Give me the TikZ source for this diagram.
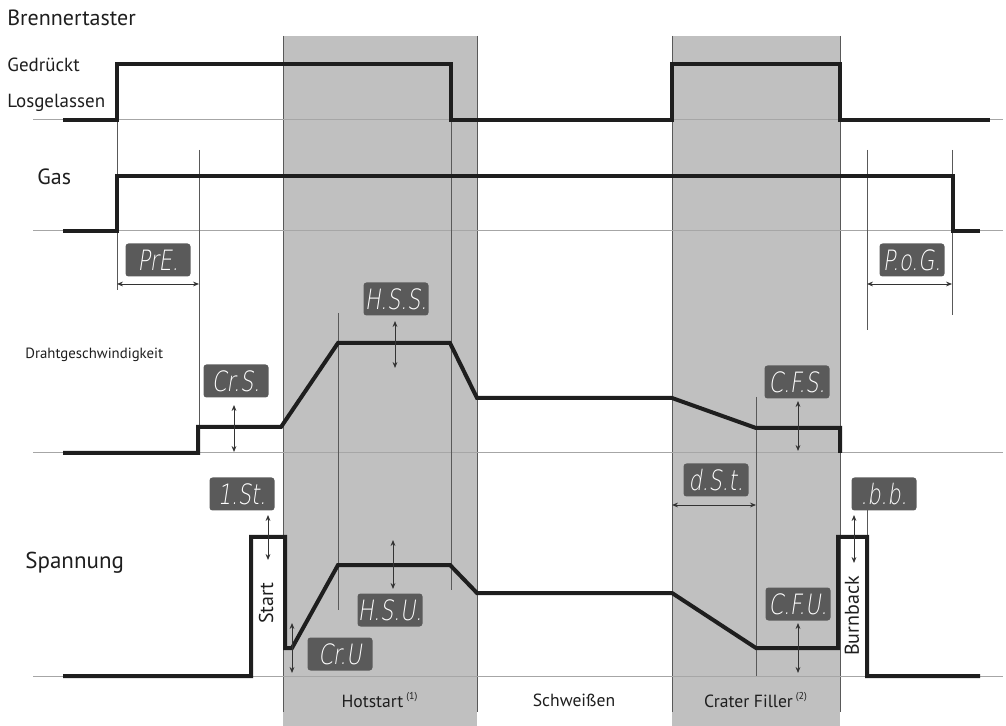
\documentclass[tikz,border=0pt]{standalone}
\usepackage{fontspec}
\setmainfont{PT Sans}
\newfontfamily\segfont[FakeSlant=0.15,FakeStretch=0.75]{DejaVu Sans ExtraLight}
\usetikzlibrary{arrows.meta}
\definecolor{band}{HTML}{C0C0C0}
\definecolor{dispbg}{HTML}{5A5A5A}
\definecolor{ink}{HTML}{1E1E1E}

\begin{document}
\begin{tikzpicture}[x=0.5pt,y=-0.5pt,
    sig/.style={ink,line width=2pt,line join=miter},
    base/.style={gray!70,line width=0.5pt},
    thin/.style={black!65,line width=0.5pt},
    dim/.style={black!80,line width=0.45pt,{Stealth[length=3pt,width=2.4pt]}-{Stealth[length=3pt,width=2.4pt]}},
    disp/.style={fill=dispbg,rounded corners=1.5pt,text=white,minimum width=32.5pt,minimum height=16.5pt,inner sep=0pt,font=\segfont\fontsize{14}{14}\selectfont},
    lbl/.style={text=ink,inner sep=0pt,anchor=west}]
\useasboundingbox (0,0) rectangle (1006,726);
\fill[band] (283,36) rectangle (477,726);
\fill[band] (672,36) rectangle (840,726);
\draw[thin] (283,36) -- (283,712);
\draw[thin] (477,36) -- (477,712);
\draw[thin] (672,36) -- (672,712);
\draw[thin] (840,36) -- (840,712);
\draw[base] (33,120) -- (1003,120);
\draw[base] (33,231) -- (1003,231);
\draw[base] (33,453) -- (1003,453);
\draw[base] (33,676) -- (1003,676);
\draw[thin] (117,64) -- (117,290);
\draw[thin] (199,150) -- (199,427);
\draw[thin] (338,313) -- (338,610);
\draw[thin] (451,64) -- (451,590);
\draw[thin] (756,397) -- (756,676);
\draw[thin] (867,150) -- (867,330);
\draw[thin] (952,150) -- (952,315);
\draw[thin] (867,510) -- (867,537);
\draw[sig] (63,120) -- (117,120) -- (117,64) -- (451,64) -- (451,120) -- (672,120) -- (672,64) -- (840,64) -- (840,120) -- (990,120);
\draw[sig] (63,231) -- (117,231) -- (117,176) -- (953,176) -- (953,231) -- (980,231);
\draw[sig] (63,453) -- (198,453) -- (198,427) -- (281,427) -- (338,343) -- (450,343) -- (477,398) -- (672,398) -- (756,428) -- (840,428) -- (840,453);
\draw[sig] (63,676) -- (251,676) -- (251,537) -- (285,537) -- (285,648) -- (292,648) -- (338,565) -- (450,565) -- (477,593) -- (672,593) -- (756,648) -- (838,648) -- (838,537) -- (867,537) -- (867,676) -- (980,676);
\node[disp] (pre) at (158,260) {PrE.};
\node[disp] (pog) at (912,260) {P.o.G.};
\node[disp] (crs) at (236,381) {Cr.S.};
\node[disp] (hss) at (396,299) {H.S.S.};
\node[disp] (cfs) at (797,382) {C.F.S.};
\node[disp] (dst) at (716,480) {d.S.t.};
\node[disp] (ist) at (242,494) {1.St.};
\node[disp] (cru) at (340,654) {Cr.U};
\node[disp] (hsu) at (390,610) {H.S.U.};
\node[disp] (cfu) at (798,604) {C.F.U.};
\node[disp] (bb) at (884,494) {.b.b.};
\draw[dim] (117,284) -- (199,284);
\draw[dim] (867,284) -- (952,284);
\draw[dim] (234,405) -- (234,452);
\draw[dim] (395,321) -- (395,368);
\draw[dim] (798,401) -- (798,451);
\draw[dim] (268,515) -- (268,560);
\draw[dim] (292,623) -- (292,673);
\draw[dim] (393,540) -- (393,589);
\draw[dim] (672,505) -- (756,505);
\draw[dim] (798,623) -- (798,673);
\draw[dim] (854,515) -- (854,563);
\node[lbl,font=\fontsize{11}{12}\selectfont] (brenner) at (7,18) {Brennertaster};
\node[lbl,font=\fontsize{9.5}{12}\selectfont] (gedr) at (7,65) {Gedrückt};
\node[lbl,font=\fontsize{9.5}{12}\selectfont] (los) at (7,103) {Losgelassen};
\node[lbl,font=\fontsize{11}{12}\selectfont] (gas) at (37,177) {Gas};
\node[lbl,font=\fontsize{7.4}{10}\selectfont] (draht) at (25,355) {Drahtgeschwindigkeit};
\node[lbl,font=\fontsize{11.5}{12}\selectfont] (spann) at (25,563) {Spannung};
\node[text=ink,inner sep=0pt,rotate=90,font=\fontsize{10}{12}\selectfont] (start) at (266,603) {Start};
\node[text=ink,inner sep=0pt,rotate=90,font=\fontsize{10}{12}\selectfont] (burn) at (852,616) {Burnback};
\node[text=ink,inner sep=0pt,font=\fontsize{8.8}{10}\selectfont] (hot) at (380,700) {Hotstart\,\textsuperscript{\tiny(1)}};
\node[text=ink,inner sep=0pt,font=\fontsize{8.8}{10}\selectfont] (schw) at (574,700) {Schweißen};
\node[text=ink,inner sep=0pt,font=\fontsize{8.8}{10}\selectfont] (crater) at (756,700) {Crater Filler\,\textsuperscript{\tiny(2)}};
\end{tikzpicture}
\end{document}
